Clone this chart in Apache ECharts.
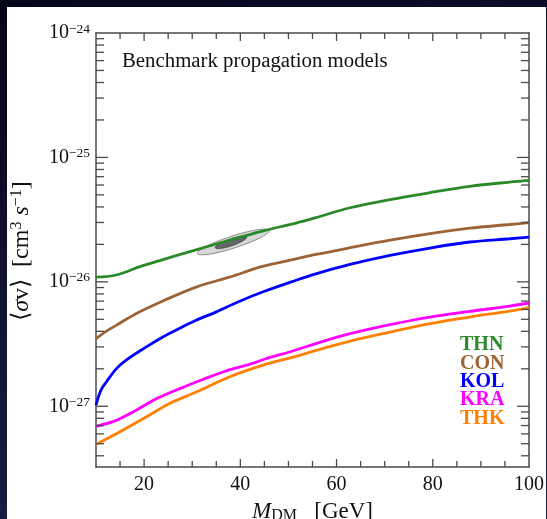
<!DOCTYPE html>
<html><head><meta charset="utf-8">
<script src="https://cdn.jsdelivr.net/npm/echarts@6/dist/echarts.min.js"></script>
<style>html,body{margin:0;padding:0;background:#0b0b22}#c{width:547px;height:519px}</style>
</head><body><div id="c"></div>
<script>
// ---- data ----
const thnMass = [10, 12, 14, 16.2, 19, 23.9, 30.8, 37.7, 44.6, 51.6, 55.7, 62.8, 71.1, 79.4, 87.7, 96, 100];
const thnVal  = [1.09e-26, 1.10e-26, 1.13e-26, 1.20e-26, 1.32e-26, 1.51e-26, 1.81e-26, 2.16e-26, 2.56e-26, 2.97e-26, 3.28e-26, 3.94e-26, 4.58e-26, 5.21e-26, 5.86e-26, 6.34e-26, 6.54e-26];
const conMass = [10, 12.1, 14.2, 18.3, 23.9, 30.8, 37.7, 44.6, 51.6, 55.7, 62.8, 71.1, 79.4, 87.7, 96, 100];
const conVal  = [3.49e-27, 4.0e-27, 4.47e-27, 5.55e-27, 7.02e-27, 9.08e-27, 1.09e-26, 1.33e-26, 1.53e-26, 1.66e-26, 1.88e-26, 2.16e-26, 2.44e-26, 2.70e-26, 2.89e-26, 2.99e-26];
const kolMass = [10, 11, 12.1, 14.2, 16.2, 20.4, 23.9, 27.3, 30.8, 34.9, 39.5, 44.6, 51.6, 55.7, 62.8, 71.1, 79.4, 87.7, 96, 100];
const kolVal  = [1.02e-27, 1.34e-27, 1.56e-27, 2.0e-27, 2.34e-27, 2.99e-27, 3.6e-27, 4.21e-27, 4.91e-27, 5.71e-27, 6.89e-27, 8.28e-27, 1.03e-26, 1.16e-26, 1.38e-26, 1.63e-26, 1.87e-26, 2.09e-26, 2.22e-26, 2.29e-26];
const kraMass = [10, 14.2, 18.3, 22.5, 27.3, 32.2, 37, 41.9, 46, 50.2, 55.7, 62.8, 71.1, 79.4, 87.7, 96, 100];
const kraVal  = [6.89e-28, 7.70e-28, 9.27e-28, 1.15e-27, 1.38e-27, 1.64e-27, 1.92e-27, 2.17e-27, 2.46e-27, 2.73e-27, 3.19e-27, 3.83e-27, 4.53e-27, 5.21e-27, 5.79e-27, 6.38e-27, 6.76e-27];
const thkMass = [10, 14.9, 20.4, 25.2, 30.8, 37.7, 44.6, 51.6, 55.7, 62.8, 71.1, 79.4, 87.7, 96, 100];
const thkVal  = [4.94e-28, 6.21e-28, 8.19e-28, 1.05e-27, 1.30e-27, 1.72e-27, 2.13e-27, 2.52e-27, 2.81e-27, 3.34e-27, 3.95e-27, 4.61e-27, 5.21e-27, 5.82e-27, 6.21e-27];
// fit region ellipses: major-axis end points [mass, value, mass, value]
const outerEllipse = [31.1, 1.69e-26, 46.0, 2.59e-26];
const innerEllipse = [34.8, 1.88e-26, 41.3, 2.29e-26];
const seriesNames = ['THN', 'CON', 'KOL', 'KRA', 'THK'];
const xLabelTicks = [20, 40, 60, 80, 100];
const yLabelExps = [-27, -26, -25, -24];
const xMin = 10, xMax = 100, yMin = 3.25e-28, yMax = 1e-24;

// ---- styling ----
const FONT = "'Liberation Serif','Times New Roman',serif";
const colors = {THN:'#2a8a2a', CON:'#9c6436', KOL:'#0000ff', KRA:'#ff00ff', THK:'#ff8000'};
const AX = '#4a4a4a';

function pairs(ms, vs){ return ms.map((m,i)=>[m, vs[i]]); }
const seriesData = {THN:pairs(thnMass,thnVal), CON:pairs(conMass,conVal), KOL:pairs(kolMass,kolVal), KRA:pairs(kraMass,kraVal), THK:pairs(thkMass,thkVal)};

function yLabel(v){
  const l = Math.log10(v), e = Math.round(l);
  if (Math.abs(l - e) > 1e-6 || !yLabelExps.includes(e)) return '';
  return '{b|10}{s|' + (e < 0 ? '\u2212' : '') + Math.abs(e) + '}';
}

// tick values
const xTickVals = []; for (let v = 15; v < 100; v += 5) xTickVals.push(v);
const yTickVals = [];
for (let d = -28; d <= -24; d++) for (let k = 1; k <= 9; k++) {
  const v = k * Math.pow(10, d);
  if (v > yMin * 1.0001 && v < yMax * 0.9999) yTickVals.push({v, major: k === 1});
}

function ellipseItem(params, api, semiMinor, fill, stroke){
  const p1 = api.coord([api.value(0), api.value(1)]);
  const p2 = api.coord([api.value(2), api.value(3)]);
  const cx = (p1[0]+p2[0])/2, cy = (p1[1]+p2[1])/2;
  const a = Math.hypot(p2[0]-p1[0], p2[1]-p1[1]) / 2;
  const ang = Math.atan2(p2[1]-p1[1], p2[0]-p1[0]);
  const pts = [];
  for (let i = 0; i < 72; i++) {
    const t = i / 72 * Math.PI * 2;
    const ex = a * Math.cos(t), ey = semiMinor * Math.sin(t);
    pts.push([cx + ex*Math.cos(ang) - ey*Math.sin(ang), cy + ex*Math.sin(ang) + ey*Math.cos(ang)]);
  }
  return {type:'polygon', shape:{points:pts}, style:{fill, stroke, lineWidth:1}};
}

const lineSeries = seriesNames.map(n => ({
  name: n, type: 'line', data: seriesData[n], showSymbol: false, smooth: 0.35,
  lineStyle: {color: colors[n], width: 2.8}, itemStyle: {color: colors[n]}, z: 5
}));

const richY = {
  n:{fontFamily:FONT, fontSize:24, fill:'#111', lineHeight:26},
  i:{fontFamily:FONT, fontStyle:'italic', fontSize:24, fill:'#111', lineHeight:26},
  s:{fontFamily:FONT, fontSize:16, fill:'#111', verticalAlign:'top', lineHeight:16}
};

const option = {
  animation: false,
  backgroundColor: {type:'linear', x:0, y:0, x2:0.3, y2:1, colorStops:[{offset:0,color:'#05051a'},{offset:1,color:'#1e1e46'}]},
  graphic: [
    {type:'rect', left:7, top:7, shape:{width:539, height:512}, style:{fill:'#ffffff'}, z:-100, silent:true},
    {type:'text', left:122, top:51, style:{text:'Benchmark propagation models', font:'20.8px ' + FONT, fill:'#111'}, z:10},
    {type:'text', x:22, y:251, rotation:Math.PI/2, z:10,
     style:{text:'{n|\u27e8}{i|\u03c3}{n|v\u27e9  [cm}{s|3}{i| s}{s|\u22121}{n|]}', rich:richY, align:'center', verticalAlign:'middle'}}
  ],
  grid: {left:96, right:18, top:33, bottom:52, containLabel:false, outerBoundsMode:'none'},
  legend: {
    orient:'vertical', left:450, top:330, icon:'none', itemWidth:0, itemHeight:18, itemGap:-1.6,
    selectedMode:false,
    textStyle:{fontFamily:FONT, fontWeight:'bold', fontSize:20, lineHeight:18},
    data: seriesNames.map(n => ({name:n, textStyle:{color:colors[n]}}))
  },
  xAxis: [
    {type:'value', min:xMin, max:xMax, interval:10, position:'bottom',
     axisLine:{show:true, onZero:false, lineStyle:{color:AX, width:1.5}}, axisTick:{show:false}, splitLine:{show:false},
     axisLabel:{formatter:v => xLabelTicks.includes(v) ? String(v) : '', fontFamily:FONT, fontSize:20, color:'#111', margin:8},
     name:'{i|M}{sub|DM}{n|   [GeV]}', nameLocation:'middle', nameGap:33,
     nameTextStyle:{rich:{
       i:{fontFamily:FONT, fontStyle:'italic', fontSize:23, color:'#111', lineHeight:24},
       sub:{fontFamily:FONT, fontSize:16, color:'#111', verticalAlign:'bottom', lineHeight:16},
       n:{fontFamily:FONT, fontSize:23, color:'#111', lineHeight:24}}}},
    {type:'value', min:xMin, max:xMax, interval:10, position:'top',
     axisLine:{show:true, onZero:false, lineStyle:{color:AX, width:1.5}}, axisTick:{show:false}, axisLabel:{show:false}, splitLine:{show:false}}
  ],
  yAxis: [
    {type:'log', min:yMin, max:yMax, logBase:10, position:'left',
     axisLine:{show:true, onZero:false, lineStyle:{color:AX, width:1.5}}, axisTick:{show:false}, splitLine:{show:false},
     axisLabel:{formatter:yLabel, margin:6, showMinLabel:false, showMaxLabel:false, hideOverlap:false, rich:{
       b:{fontFamily:FONT, fontSize:20, color:'#111', lineHeight:22},
       s:{fontFamily:FONT, fontSize:13.5, color:'#111', verticalAlign:'top', lineHeight:14}}}},
    {type:'log', min:yMin, max:yMax, logBase:10, position:'right',
     axisLine:{show:true, onZero:false, lineStyle:{color:AX, width:1.5}}, axisTick:{show:false}, axisLabel:{show:false}, splitLine:{show:false}}
  ],
  series: [
    {type:'custom', name:'fit-outer', data:[outerEllipse], encode:{x:[0,2], y:[1,3]}, z:2, silent:true,
     renderItem:(p, api) => ellipseItem(p, api, 6, '#d8d8d8', '#8c8c8c')},
    {type:'custom', name:'fit-inner', data:[innerEllipse], encode:{x:[0,2], y:[1,3]}, z:3, silent:true,
     renderItem:(p, api) => ellipseItem(p, api, 3.4, '#666666', '#4a4a4a')},
    ...lineSeries,
    {type:'custom', name:'ticks', data:[[xMin, yMax]], z:8, silent:true, clip:false,
     renderItem:(params, api) => {
       const cs = params.coordSys;
       const L = cs.x, R = cs.x + cs.width, T = cs.y, B = cs.y + cs.height;
       const st = {stroke:AX, lineWidth:1.3};
       const ch = [];
       xTickVals.forEach(v => {
         const px = api.coord([v, yMax])[0];
         const len = (v % 20 === 0) ? 8 : 6;
         ch.push({type:'line', shape:{x1:px, y1:B, x2:px, y2:B-len}, style:st});
         ch.push({type:'line', shape:{x1:px, y1:T, x2:px, y2:T+len}, style:st});
       });
       yTickVals.forEach(t => {
         const py = api.coord([xMin, t.v])[1];
         const len = t.major ? 12 : 8;
         ch.push({type:'line', shape:{x1:L, y1:py, x2:L+len, y2:py}, style:st});
         ch.push({type:'line', shape:{x1:R, y1:py, x2:R-len, y2:py}, style:st});
       });
       return {type:'group', children:ch};
     }}
  ]
};
const chart = echarts.init(document.getElementById('c'), null, {renderer:'canvas'});
chart.setOption(option);
</script></body></html>
